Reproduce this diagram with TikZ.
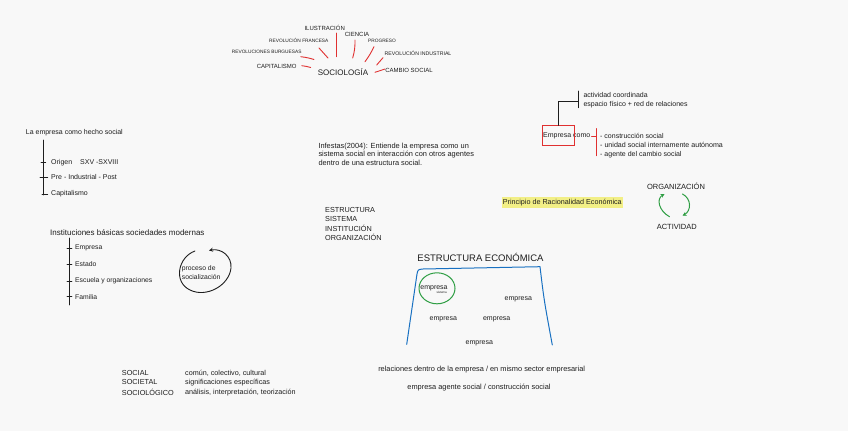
\documentclass[tikz,border=0pt]{standalone}
\usepackage{fontspec}
\setmainfont{Liberation Sans}
\usetikzlibrary{arrows.meta}
\definecolor{bg}{HTML}{F8F8F8}
\definecolor{ink}{HTML}{1E1E1E}
\definecolor{xred}{HTML}{E03131}
\definecolor{xgreen}{HTML}{2F9E44}
\definecolor{xblue}{HTML}{1971C2}
\definecolor{hl}{HTML}{F2EF86}
\newcommand{\fsz}[1]{\fontsize{#1}{#1}\selectfont}
\begin{document}
\begin{tikzpicture}[x=1pt,y=-1pt,
  txt/.style={inner sep=0pt, text=ink, font=\fsz{7}},
  lt/.style={txt, anchor=west},
  capsm/.style={txt, font=\fsz{4.8}},
  capmd/.style={txt, font=\fsz{6}},
  redln/.style={draw=xred, line width=0.9pt, line cap=round},
  inkln/.style={draw=ink, line width=0.9pt, line cap=round},
  grnln/.style={draw=xgreen, line width=1pt, line cap=round},
  arr/.style={-{Stealth[length=4pt,width=4pt]}}
]
\fill[bg] (0,0) rectangle (848,431);
\useasboundingbox (0,0) rectangle (848,431);

% ---------- SOCIOLOGIA ----------
\node[txt, font=\fsz{8}] (soc) at (343,72.3) {SOCIOLOGÍA};
\node[capmd] (ilu) at (324.7,28.3) {ILUSTRACIÓN};
\node[capmd] (cie) at (357,34.3) {CIENCIA};
\node[capsm] (rf) at (298.8,40.7) {REVOLUCIÓN FRANCESA};
\node[capsm] (pro) at (382,40.7) {PROGRESO};
\node[capsm] (rb) at (266.7,51.7) {REVOLUCIONES BURGUESAS};
\node[txt, font=\fsz{5.2}] (ri) at (418,53) {REVOLUCIÓN INDUSTRIAL};
\node[capmd] (capi) at (276.7,66) {CAPITALISMO};
\node[capmd] (cs) at (409,70) {CAMBIO SOCIAL};

\coordinate (iluA) at (336.7,33);   \coordinate (iluB) at (336.7,56.7);
\coordinate (cieA) at (355,40);     \coordinate (cieB) at (352.7,58);
\coordinate (rfA) at (319,48);      \coordinate (rfB) at (328,58);
\coordinate (proA) at (374,46.7);   \coordinate (proB) at (365,61.7);
\coordinate (rbA) at (300.7,56.7);  \coordinate (rbB) at (314,59.5);
\coordinate (riA) at (383,57.7);    \coordinate (riB) at (376.7,65);
\coordinate (capA) at (301.7,65.7); \coordinate (capB) at (310.7,67.5);
\coordinate (csA) at (385,69);      \coordinate (csB) at (375,72.3);
\draw[redln] (iluA) -- (iluB);
\draw[redln] (cieA) to[bend left=8] (cieB);
\draw[redln] (rfA) -- (rfB);
\draw[redln] (proA) to[bend left=5] (proB);
\draw[redln] (rbA) to[bend left=5] (rbB);
\draw[redln] (riA) -- (riB);
\draw[redln] (capA) to[bend left=5] (capB);
\draw[redln] (csA) -- (csB);

% ---------- Empresa como ----------
\node[lt] (emp) at (543,136) {Empresa como};
\node[draw=xred, line width=0.9pt, minimum width=31.6pt, minimum height=19.3pt, inner sep=0pt] (ebox) at (558.5,135.4) {};
\coordinate (b1top) at (578.3,91);
\coordinate (b1bot) at (578.3,107.7);
\coordinate (b1mid) at (578.3,101);
\draw[inkln] (b1top) -- (b1bot);
\draw[inkln] (ebox.north) |- (b1mid);
\node[lt] (ac) at (583.3,95) {actividad coordinada};
\node[lt] (ef) at (583.3,105) {espacio físico + red de relaciones};

\coordinate (b2top) at (596,128.5);
\coordinate (b2bot) at (596,155.7);
\coordinate (b2mid) at (596,136);
\draw[redln] (b2top) -- (b2bot);
\draw[redln] (emp.east) ++(1,0) coordinate (empE) (empE) -- (b2mid);
\node[lt] (it1) at (600,136) {- construcción social};
\node[lt, font=\fsz{7.1}] (it2) at (600,145) {- unidad social internamente autónoma};
\node[lt] (it3) at (600,154.3) {- agente del cambio social};

% ---------- La empresa como hecho social ----------
\node[lt] (hecho) at (25.7,132.3) {La empresa como hecho social};
\coordinate (v1top) at (43.3,140);
\coordinate (v1bot) at (43.3,195);
\draw[inkln] (v1top) -- (v1bot);
\node[lt] (ori) at (51,162.3) {Origen\hspace{8pt}SXV -SXVIII};
\node[lt] (pre) at (51,177.3) {Pre - Industrial - Post};
\node[lt] (capl) at (51,193.3) {Capitalismo};
\draw[inkln] (41,162.7) -- (45.7,162.7);
\draw[inkln] (40,177.3) -- (47.7,177.3);
\draw[inkln] (42,194.5) -- (47.7,194.5);

% ---------- Infestas ----------
\node[lt, font=\fontsize{7.4}{8.2}\selectfont, align=left] (inf) at (318.3,154.2)
  {Infestas(2004): Entiende la empresa como un\\sistema social en interacción con otros agentes\\dentro de una estructura social.};

% ---------- Instituciones ----------
\node[lt, font=\fsz{8}] (inst) at (50,232.7) {Instituciones básicas sociedades modernas};
\coordinate (v2top) at (69.3,238);
\coordinate (v2bot) at (69.3,305);
\draw[inkln] (v2top) -- (v2bot);
\foreach \yy in {248.3,264.3,281,296.7} {\draw[inkln] (67,\yy) -- (71.8,\yy);}
\node[lt, font=\fsz{6.8}] (i1) at (75,248.3) {Empresa};
\node[lt, font=\fsz{6.8}] (i2) at (75,264.3) {Estado};
\node[lt, font=\fsz{6.8}] (i3) at (75,281) {Escuela y organizaciones};
\node[lt, font=\fsz{6.8}] (i4) at (75,296.7) {Familia};

\node[lt, font=\fontsize{6.8}{8.4}\selectfont, align=left] (proc) at (181.7,272.5) {proceso de\\socialización};
\coordinate (loopA) at (195,251);
\coordinate (loopB) at (209,250.5);
\draw[inkln, arr] (loopA) .. controls (178,257) and (173,282) .. (190,290)
  .. controls (206,298) and (229,286) .. (231,268)
  .. controls (232,256) and (221,248) .. (loopB);

% ---------- ESTRUCTURA list ----------
\node[lt, font=\fsz{7.3}] (l1) at (325,210) {ESTRUCTURA};
\node[lt, font=\fsz{7.3}] (l2) at (325,219) {SISTEMA};
\node[lt, font=\fsz{7.3}] (l3) at (325,228.3) {INSTITUCIÓN};
\node[lt, font=\fsz{7.3}] (l4) at (325,237.3) {ORGANIZACIÓN};

% ---------- Principio ----------
\node[lt, fill=hl, font=\fsz{7.2}, inner xsep=1pt, inner ysep=1.8pt] (pri) at (501.7,202.3) {Principio de Racionalidad Económica};

% ---------- ORGANIZACION / ACTIVIDAD ----------
\node[txt, font=\fsz{7.5}] (org) at (676,186) {ORGANIZACIÓN};
\node[txt, font=\fsz{7.5}] (act) at (676.8,226.7) {ACTIVIDAD};
\coordinate (gA1) at (669.5,216.7);
\coordinate (gA2) at (664.5,194);
\coordinate (gB1) at (682.5,194);
\coordinate (gB2) at (682.5,215.7);
\draw[grnln, arr] (gA1) .. controls (659,211) and (656,199) .. (gA2);
\draw[grnln, arr] (gB1) .. controls (692,199) and (691,211) .. (gB2);

% ---------- ESTRUCTURA ECONOMICA ----------
\node[txt, font=\fsz{9.5}] (eco) at (480.5,257.3) {ESTRUCTURA ECONÓMICA};
\coordinate (bl) at (406.7,344.3);
\coordinate (br) at (552.3,345);
\draw[draw=xblue, line width=1pt, line cap=round, line join=round]
  (bl) -- (417,274) .. controls (418,269.5) .. (423,269) -- (540,266.7)
  .. controls (544,300) .. (br);
\draw[grnln] (437,288.3) ellipse (18pt and 15.5pt);
\node[txt] (e0) at (434,288) {empresa};
\node[txt, font=\fsz{3}] (sis) at (441.7,292.7) {sistema};
\node[txt] (e1) at (518.3,299) {empresa};
\node[txt] (e2) at (443.3,319) {empresa};
\node[txt] (e3) at (496.7,319) {empresa};
\node[txt] (e4) at (479.3,343.3) {empresa};

\node[txt, font=\fsz{7.4}] (rel) at (481.7,370) {relaciones dentro de la empresa / en mismo sector empresarial};
\node[txt, font=\fsz{7.4}] (age) at (479,387.3) {empresa agente social / construcción social};

% ---------- SOCIAL ----------
\node[lt, font=\fsz{7.3}] (s1) at (121.7,373.3) {SOCIAL};
\node[lt, font=\fsz{7.3}] (s2) at (121.7,382.3) {SOCIETAL};
\node[lt, font=\fsz{7.3}] (s3) at (121.7,392.3) {SOCIOLÓGICO};
\node[lt, font=\fsz{7.2}] (d1) at (185,373.3) {común, colectivo, cultural};
\node[lt, font=\fsz{7.2}] (d2) at (185,382.3) {significaciones específicas};
\node[lt, font=\fsz{7.2}] (d3) at (185,392.3) {análisis, interpretación, teorización};
\end{tikzpicture}
\end{document}
